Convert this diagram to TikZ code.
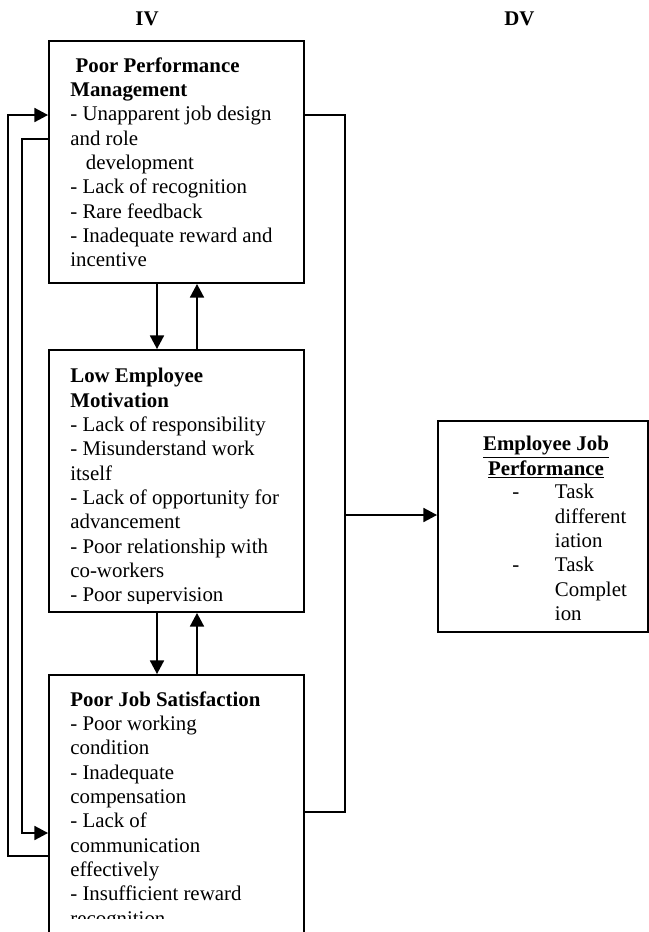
\documentclass[tikz,border=0pt]{standalone}
\usepackage{fontspec}
\setmainfont{Liberation Serif}
\usetikzlibrary{positioning,arrows.meta}

\begin{document}
\begin{tikzpicture}[x=0.575pt, y=-0.575pt,
    font=\fontsize{12}{14}\selectfont,
    box/.style={draw, line width=1.1pt, inner sep=0pt},
    size/.style 2 args={minimum width=#1*0.575pt, minimum height=#2*0.575pt},
    txt/.style={inner sep=0pt, align=left, anchor=north west},
    ln/.style={line width=1.1pt},
    arr/.style={ln, -{Triangle[length=7.8pt,width=8pt]}}]
	\clip (0,0) rectangle (649,932);

	\node[anchor=base, font=\fontsize{12}{14}\selectfont\bfseries] (iv) at (147,25) {IV};
	\node[anchor=base, font=\fontsize{12}{14}\selectfont\bfseries] (dv) at (519.5,25) {DV};

	\node[box, size={255}{242}] (ppm) at (176.5,162) {};
	\node[box, size={255}{262}] (lem) at (176.5,481) {};
	\node[box, size={255}{285}] (pjs) at (176.5,817.5) {};
	\node[box, size={210}{211}] (ejp) at (543,526.5) {};

	\node[txt] (ppmtext) at (70,57) {\textbf{\hspace*{3pt}Poor Performance}\\
		\textbf{Management}\\
		- Unapparent job design\\
		and role\\
		\hspace*{9pt}development\\
		- Lack of recognition\\
		- Rare feedback\\
		- Inadequate reward and\\
		incentive};

	\begin{scope}
		\clip (49,350) rectangle (304,603);
		\node[txt] (lemtext) at (70,368) {\textbf{Low Employee}\\
			\textbf{Motivation}\\
			- Lack of responsibility\\
			- Misunderstand work\\
			itself\\
			- Lack of opportunity for\\
			advancement\\
			- Poor relationship with\\
			co-workers\\
			- Poor supervision};
	\end{scope}

	\begin{scope}
		\clip (49,675) rectangle (304,918);
		\node[txt] (pjstext) at (70,691) {\textbf{Poor Job Satisfaction}\\
			- Poor working\\
			condition\\
			- Inadequate\\
			compensation\\
			- Lack of\\
			communication\\
			effectively\\
			- Insufficient reward\\
			recognition};
	\end{scope}

	\node[inner sep=0pt, align=center, anchor=north, font=\fontsize{12}{14}\selectfont\bfseries] (ejptitle) at (546,436)
		{\underline{Employee Job}\\ \underline{Performance}};
	\node[txt] (ejplist) at (512,484) {-\hspace*{20.5pt}Task\\
		\hspace*{24.5pt}different\\
		\hspace*{24.5pt}iation\\
		-\hspace*{20.5pt}Task\\
		\hspace*{24.5pt}Complet\\
		\hspace*{24.5pt}ion};

	% links between the three boxes
	\draw[arr] (ppm.south -| 157,0) -- (lem.north -| 157,0);
	\draw[arr] (lem.north -| 197,0) -- (ppm.south -| 197,0);
	\draw[arr] (lem.south -| 157,0) -- (pjs.north -| 157,0);
	\draw[arr] (pjs.north -| 197,0) -- (lem.south -| 197,0);

	% feedback loops on the left
	\draw[arr] (pjs.west |- 0,856) -- (8,856) -- (8,115) -- (ppm.west |- 0,115);
	\draw[arr] (ppm.west |- 0,139) -- (22,139) -- (22,833) -- (pjs.west |- 0,833);

	% to the dependent variable
	\draw[ln] (ppm.east |- 0,115) -- (345,115) -- (345,812) -- (pjs.east |- 0,812);
	\coordinate (jn) at (345,515);
	\draw[arr] (jn) -- (ejp.west |- jn);
\end{tikzpicture}
\end{document}
